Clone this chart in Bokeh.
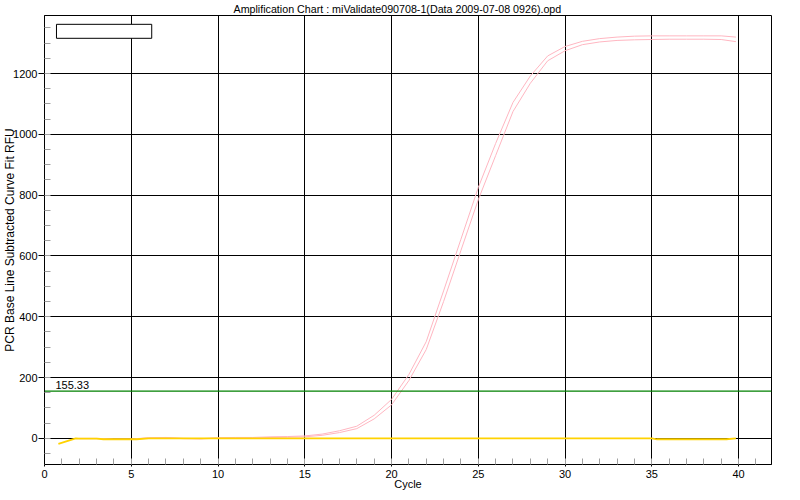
from bokeh.plotting import figure
from bokeh.models import Range1d, SingleIntervalTicker, Span, BoxAnnotation
from bokeh.core.properties import value
from bokeh.embed import file_html
from bokeh.resources import INLINE

title_text = "Amplification Chart : miValidate090708-1(Data 2009-07-08 0926).opd"
x_label = "Cycle"
y_label = "PCR Base Line Subtracted Curve Fit RFU"
threshold = 155.33
threshold_label = "155.33"

pink_cycles = [2, 3, 4, 5, 6, 7, 8, 9, 10, 11, 12, 13, 14, 15, 16, 17, 18, 19, 20,
               21, 22, 23, 24, 25, 26, 27, 28, 29, 30, 31, 32, 33, 34, 35, 36, 37,
               38, 39, 39.85]
pink_a = [0, 0, -2, -2, 2, 3, 0, -1, 2, 3, 3, 5, 6, 8, 14, 25, 40, 76, 128, 210,
          318, 485, 655, 825, 970, 1105, 1192, 1258, 1289, 1306, 1315, 1320, 1323,
          1324, 1324, 1324, 1324, 1324, 1320]
pink_b = [-1, -1, -3, -3, 1, 2, -1, -2, 1, 1, 1, 3, 4, 5, 10, 19, 32, 64, 110, 190,
          292, 450, 618, 785, 930, 1075, 1168, 1242, 1275, 1295, 1304, 1309, 1311,
          1312, 1313, 1313, 1313, 1312, 1305]

yellow_cycles = [0.8, 1.8, 2, 3, 3.4, 4, 5, 5.3, 6, 7, 8, 9, 10, 11, 12, 13, 14, 15,
                 16, 17, 18, 19, 20, 21, 22, 23, 24, 25, 26, 27, 28, 29, 30, 31, 32,
                 33, 34, 35, 35.3, 36.3, 37.3, 39.3, 39.85]
yellow_vals = [-18, 0, -1, -1, -3, -3, -3, -3, 0, 0, 0, 0, 0, 0, 0, 0, 0, 0,
               0, 0, 0, 0, 0, 0, 0, 0, 0, 0, 0, 0, 0, 0, 0, 0, 0,
               0, 0, 0, -3, -3, -3, -3, 0]

FONT = "Liberation Sans"

p = figure(width=784, height=492, output_backend="svg", toolbar_location=None,
           x_range=Range1d(0, 41.9), y_range=Range1d(-86, 1391),
           min_border_left=0, min_border_right=13, min_border_top=2, min_border_bottom=0)

p.background_fill_color = "white"
p.border_fill_color = "white"
p.outline_line_color = "black"
p.outline_line_alpha = 1

p.title.text = title_text
p.title.align = "left"
p.title.offset = 189
p.title.text_font = FONT
p.title.text_font_size = "10.7px"
p.title.text_font_style = "normal"
p.title.text_color = "black"
p.title.standoff = 1

p.xaxis.ticker = SingleIntervalTicker(interval=5, num_minor_ticks=5)
p.yaxis.ticker = SingleIntervalTicker(interval=200, num_minor_ticks=4)

for ax in (p.xaxis[0], p.yaxis[0]):
    ax.axis_line_color = "black"
    ax.major_tick_line_color = "black"
    ax.major_tick_in = 0
    ax.minor_tick_in = 6
    ax.minor_tick_out = 0
    ax.minor_tick_line_color = "#a0a0a0"
    ax.major_label_text_font = FONT
    ax.major_label_text_font_size = "11px"
    ax.major_label_text_color = "black"
    ax.axis_label_text_font = FONT
    ax.axis_label_text_font_style = "normal"
    ax.axis_label_text_color = "black"

p.xaxis.major_tick_out = 2
p.xaxis.major_label_standoff = 3
p.xaxis.axis_label = x_label
p.xaxis.axis_label_text_font_size = "11px"
p.xaxis.axis_label_standoff = -3

p.yaxis.major_tick_out = 6
p.yaxis.major_label_standoff = 1
p.yaxis.axis_label = y_label
p.yaxis.axis_label_text_font_size = "12px"
p.yaxis.axis_label_standoff = -7

p.grid.grid_line_color = "black"
p.grid.grid_line_alpha = 1
p.grid.grid_line_width = 1

p.line(pink_cycles, pink_a, line_color="#FFB6C1", line_width=1)
p.line(pink_cycles, pink_b, line_color="#FFB6C1", line_width=1)
p.line(yellow_cycles, yellow_vals, line_color="#FFD200", line_width=1.8)

p.add_layout(Span(location=threshold, dimension="width", line_color="#008000",
                  line_width=1.2))
p.text(x=[0.63], y=[threshold], text=[threshold_label], text_font=value(FONT),
       text_font_size="11px", text_baseline="bottom", text_color="black", y_offset=-2)

p.add_layout(BoxAnnotation(left=0.69, right=6.18, bottom=1316, top=1362,
                           fill_color="white", fill_alpha=1, line_color="black",
                           line_alpha=1, line_width=1))

open("out.html", "w").write(file_html(p, INLINE))
